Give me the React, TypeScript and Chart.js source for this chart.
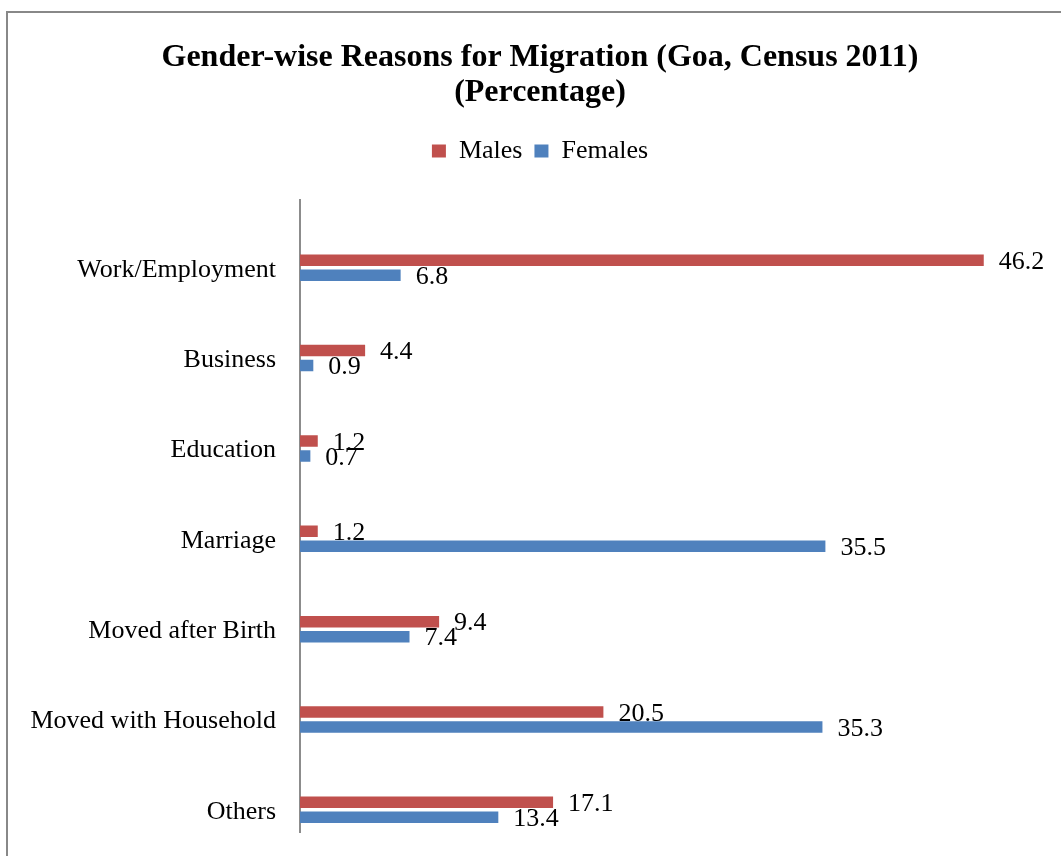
import React, { useEffect, useRef } from "react";
import { Chart, registerables } from "chart.js";

Chart.register(...registerables);

const categories = [
  "Work/Employment",
  "Business",
  "Education",
  "Marriage",
  "Moved after Birth",
  "Moved with Household",
  "Others",
];
const males = [46.2, 4.4, 1.2, 1.2, 9.4, 20.5, 17.1];
const females = [6.8, 0.9, 0.7, 35.5, 7.4, 35.3, 13.4];
const seriesNames = ["Males", "Females"];
const seriesColors = ["#C0504D", "#4F81BD"];
const titleLines = ["Gender-wise Reasons for Migration (Goa, Census 2011)", "(Percentage)"];
const xMin = 0;
const xMax = 50;

const FONT = "'Times New Roman', 'Liberation Serif', serif";

const dataLabels = {
  id: "dataLabels",
  afterDatasetsDraw(chart: any) {
    const ctx = chart.ctx;
    ctx.save();
    ctx.font = `26px ${FONT}`;
    ctx.fillStyle = "#000";
    ctx.textAlign = "left";
    ctx.textBaseline = "middle";
    chart.data.datasets.forEach((ds: any, di: number) => {
      const meta = chart.getDatasetMeta(di);
      meta.data.forEach((el: any, i: number) => {
        const v = ds.data[i].x;
        ctx.fillText(v.toFixed(1), el.x + 15, el.y + 2);
      });
    });
    ctx.restore();
  },
};

export default function App() {
  const ref = useRef<HTMLCanvasElement | null>(null);

  useEffect(() => {
    if (!ref.current) return;
    const seriesData = [males, females];
    const chart = new Chart(ref.current, {
      type: "bar",
      data: {
        datasets: seriesNames.map((name, si) => ({
          label: name,
          data: seriesData[si].map((v, i) => ({ x: v, y: i })),
          backgroundColor: seriesColors[si],
          borderWidth: 0,
          categoryPercentage: 0.332,
          barPercentage: 0.767,
        })),
      },
      options: {
        indexAxis: "y",
        animation: false,
        responsive: false,
        layout: { padding: { left: 0, right: 0, top: 0, bottom: 0 } },
        scales: {
          x: {
            type: "linear",
            position: "top",
            min: xMin,
            max: xMax,
            grid: { display: false, drawTicks: false },
            border: { display: false },
            ticks: { display: false },
            afterFit: (s: any) => {
              s.height = 26;
            },
          },
          y: {
            type: "linear",
            reverse: true,
            offset: false,
            min: -0.75,
            max: categories.length - 0.75,
            afterBuildTicks: (s: any) => {
              s.ticks = categories.map((_, i) => ({ value: i }));
            },
            ticks: {
              callback: (v: any) => categories[v] ?? "",
              font: { size: 26, family: FONT },
              color: "#000",
              padding: 24,
              labelOffset: 2,
              autoSkip: false,
            },
            grid: { display: false, drawTicks: false, offset: false },
            border: { display: true, color: "#8c8c8c", width: 2 },
            afterFit: (s: any) => {
              s.width = 300;
            },
          },
          yRight: {
            type: "linear",
            position: "right",
            display: true,
            grid: { display: false, drawTicks: false },
            border: { display: false },
            ticks: { display: false },
            afterFit: (s: any) => {
              s.width = 40;
            },
          },
        },
        plugins: {
          title: {
            display: true,
            text: titleLines,
            color: "#000",
            font: { size: 32, weight: "bold", family: FONT, lineHeight: 35 / 32 },
            padding: { top: 40, bottom: 16 },
          },
          legend: {
            display: true,
            position: "top",
            labels: {
              boxWidth: 14,
              boxHeight: 13,
              padding: 12,
              color: "#000",
              font: { size: 26, family: FONT },
            },
          },
          tooltip: { enabled: false },
        },
      } as any,
      plugins: [dataLabels],
    });
    return () => chart.destroy();
  }, []);

  return (
    <div
      style={{
        position: "fixed",
        left: 0,
        top: 0,
        width: 1061,
        height: 856,
        overflow: "hidden",
        background: "#fff",
      }}
    >
      <div
        style={{
          position: "absolute",
          left: 6,
          top: 11,
          width: 1200,
          height: 1000,
          border: "2px solid #888",
        }}
      />
      <canvas
        ref={ref}
        width={1080}
        height={872}
        style={{ position: "absolute", left: 0, top: 0, width: 1080, height: 872 }}
      />
    </div>
  );
}
